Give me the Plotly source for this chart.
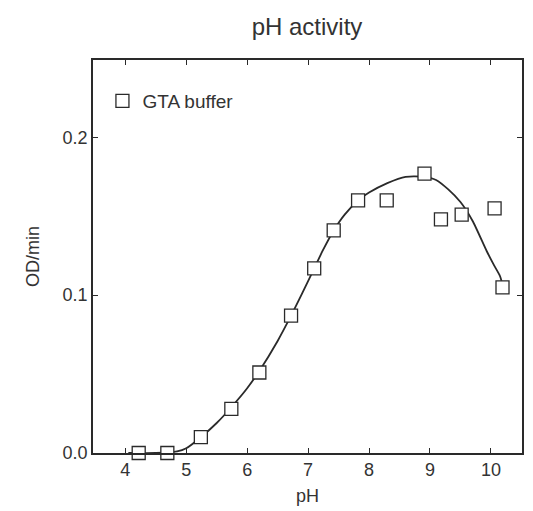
import plotly.graph_objects as go

# Measured points (GTA buffer)
ph_points = [4.22, 4.69, 5.24, 5.74, 6.20, 6.72, 7.10, 7.42, 7.82, 8.29, 8.91, 9.18, 9.52, 10.06, 10.19]
od_points = [0.000, 0.000, 0.010, 0.028, 0.051, 0.087, 0.117, 0.141, 0.160, 0.160, 0.177, 0.148, 0.151, 0.155, 0.105]

# Fitted curve
ph_curve = [4.05, 4.5, 4.85, 5.0, 5.24, 5.5, 5.74, 6.0, 6.2, 6.5, 6.72, 6.9, 7.1, 7.25, 7.42, 7.6, 7.82,
            8.0, 8.3, 8.6, 8.9, 9.1, 9.3, 9.5, 9.7, 9.93, 10.05, 10.15, 10.2]
od_curve = [0.000, 0.000, 0.001, 0.003, 0.010, 0.019, 0.029, 0.041, 0.052, 0.071, 0.087, 0.101, 0.117, 0.129,
            0.141, 0.151, 0.160, 0.165, 0.171, 0.175, 0.175, 0.173, 0.167, 0.159, 0.147, 0.128, 0.119, 0.112, 0.105]

x_ticks = [4, 5, 6, 7, 8, 9, 10]
y_ticks = [0.0, 0.1, 0.2]
y_tick_labels = ["0.0", "0.1", "0.2"]

ink = "#2a2a2a"
txt = "#333333"
font = "Liberation Sans, Arial, Helvetica, sans-serif"

fig = go.Figure()
fig.add_trace(go.Scatter(
    x=ph_curve, y=od_curve, mode="lines", showlegend=False,
    line=dict(color=ink, width=1.8, shape="spline", smoothing=0.6),
    hoverinfo="skip"))
fig.add_trace(go.Scatter(
    x=ph_points, y=od_points, mode="markers", name="GTA buffer",
    marker=dict(symbol="square", size=13, color="white",
                line=dict(color=ink, width=1.3)),
    cliponaxis=False))

axis_common = dict(showline=True, linecolor=ink, linewidth=1.5, mirror="ticks",
                   ticks="inside", ticklen=5, tickwidth=1.2, tickcolor=ink,
                   showgrid=False, zeroline=False, automargin=False,
                   tickfont=dict(family=font, size=18, color=txt))

# The page adds an 8px body margin, so the figure is sized 8px smaller.
fig.update_layout(
    width=525, height=503,
    margin=dict(l=85, r=11, t=52, b=58),
    paper_bgcolor="white", plot_bgcolor="white",
    title=dict(text="pH activity", x=0.5695, xanchor="center", y=0.964, yanchor="middle",
               font=dict(family=font, size=24, color=txt)),
    font=dict(family=font, color=txt),
    xaxis=dict(range=[3.47, 10.51], tickvals=x_ticks,
               title=dict(text="pH", font=dict(family=font, size=18, color=txt), standoff=10),
               **axis_common),
    yaxis=dict(range=[0, 0.249], tickvals=y_ticks, ticktext=y_tick_labels,
               title=dict(text="OD/min", font=dict(family=font, size=18, color=txt), standoff=18),
               **axis_common),
    legend=dict(x=0.022, y=0.944, xanchor="left", yanchor="top",
                bgcolor="rgba(0,0,0,0)", font=dict(family=font, size=19, color=txt),
                itemwidth=30),
    showlegend=True,
)

fig.write_html("out.html")
